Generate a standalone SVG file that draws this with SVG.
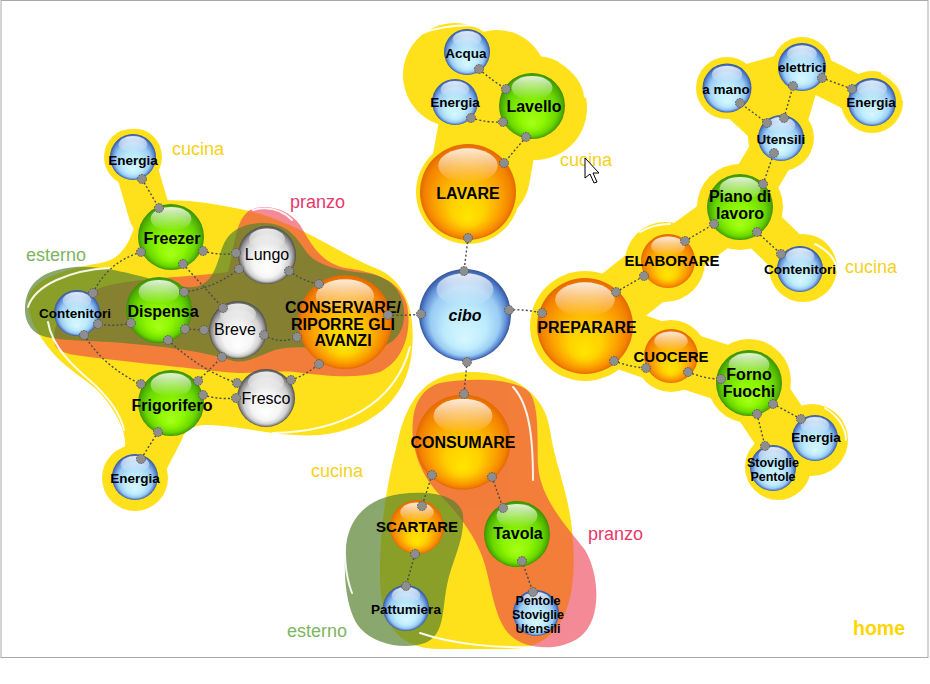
<svg xmlns="http://www.w3.org/2000/svg" width="930" height="684" viewBox="0 0 930 684">
<style>
.y{fill:#FFE11B}
.ys{stroke:#FFE11B;stroke-linecap:round;fill:none}
.rim{fill:none;stroke:#fff;stroke-width:2;stroke-linecap:round;opacity:0.9}
.c{fill:none;stroke:#4a4a4a;stroke-width:1.4;stroke-dasharray:2 2.2}
.d{fill:#8e8e8e;stroke:#555;stroke-width:1;stroke-dasharray:1.6 1.2}
.t{font-family:"Liberation Sans",Arial,sans-serif;font-weight:bold;text-anchor:middle;fill:#000}
.b16{font-size:16px}
.b15{font-size:15px}
.s13{font-size:13.5px}
.s12{font-size:12.5px}
.g{font-weight:normal;font-size:16px}
.lab{font-family:"Liberation Sans",Arial,sans-serif;font-size:18px}
.cu{fill:#F6D11A}
.pr{fill:#E8386A}
.es{fill:#7DB55E}
</style>
<defs>
<radialGradient id="gO" cx="0.5" cy="0.5" r="0.5" fx="0.5" fy="0.78">
<stop offset="0" stop-color="#FFE600"/><stop offset="0.35" stop-color="#FFD000"/><stop offset="0.7" stop-color="#FBA000"/><stop offset="0.9" stop-color="#F38200"/><stop offset="1" stop-color="#E46800"/>
</radialGradient>
<radialGradient id="gG" cx="0.5" cy="0.5" r="0.5" fx="0.5" fy="0.78">
<stop offset="0" stop-color="#A6FF1A"/><stop offset="0.4" stop-color="#8CF500"/><stop offset="0.75" stop-color="#6AD800"/><stop offset="0.92" stop-color="#4DB000"/><stop offset="1" stop-color="#3C8E00"/>
</radialGradient>
<radialGradient id="gB" cx="0.5" cy="0.5" r="0.5" fx="0.5" fy="0.78">
<stop offset="0" stop-color="#D6F7FF"/><stop offset="0.45" stop-color="#BDEBFD"/><stop offset="0.75" stop-color="#9ACBF3"/><stop offset="0.9" stop-color="#5E8ED6"/><stop offset="1" stop-color="#34549F"/>
</radialGradient>
<radialGradient id="gW" cx="0.5" cy="0.5" r="0.5" fx="0.5" fy="0.78">
<stop offset="0" stop-color="#FFFFFF"/><stop offset="0.5" stop-color="#F4F4F4"/><stop offset="0.78" stop-color="#D0D0D0"/><stop offset="0.92" stop-color="#8A8A8A"/><stop offset="1" stop-color="#4A4A4A"/>
</radialGradient>
<linearGradient id="hl" x1="0" y1="0" x2="0" y2="1">
<stop offset="0" stop-color="#fff" stop-opacity="0.85"/><stop offset="1" stop-color="#fff" stop-opacity="0"/>
</linearGradient>
<g id="bO"><circle r="100" fill="url(#gO)"/><ellipse cy="-55" rx="62" ry="36" fill="url(#hl)"/></g>
<g id="bG"><circle r="100" fill="url(#gG)"/><ellipse cy="-55" rx="62" ry="36" fill="url(#hl)"/></g>
<g id="bB"><circle r="100" fill="url(#gB)"/><ellipse cy="-55" rx="62" ry="36" fill="url(#hl)"/></g>
<g id="bW"><circle r="100" fill="url(#gW)"/><ellipse cy="-55" rx="62" ry="36" fill="url(#hl)"/></g>
</defs>

<rect x="1" y="0.5" width="927" height="657" fill="#fff" stroke="#aaa" stroke-width="1"/>

<g id="areas">
<!-- cucina left -->
<g id="cucina-left">
<circle class="y" cx="133" cy="157" r="29"/>
<line class="ys" x1="133" y1="157" x2="150" y2="215" stroke-width="42"/>
<path class="y" d="M140,205 C165,195 210,203 245,210 C300,222 340,255 380,270 C410,285 415,320 412,350 C408,400 370,430 320,435 C280,438 240,425 205,425 C185,425 180,440 172,455 L125,450 C126,440 124,432 120,423 C114,410 108,402 100,393 C85,378 65,368 52,352 C38,335 28,320 28,300 C32,275 75,268 105,262 C130,255 135,225 140,205 Z"/>
<circle class="y" cx="135" cy="478" r="33"/>
<line class="ys" x1="135" y1="478" x2="160" y2="430" stroke-width="48"/>
</g>
<!-- cucina top -->
<g id="cucina-top">
<circle class="y" cx="455" cy="75" r="52"/>
<circle class="y" cx="497" cy="80" r="50"/>
<circle class="y" cx="535" cy="108" r="52"/>
<line class="ys" x1="490" y1="120" x2="480" y2="175" stroke-width="100"/>
<circle class="y" cx="468" cy="192" r="52"/>
</g>
<!-- cucina right -->
<g id="cucina-right">
<circle class="y" cx="585" cy="326" r="55"/>
<circle class="y" cx="665" cy="262" r="40"/>
<circle class="y" cx="740" cy="207" r="43"/>
<circle class="y" cx="781" cy="138" r="33"/>
<circle class="y" cx="727" cy="88" r="31"/>
<circle class="y" cx="802" cy="67" r="30"/>
<circle class="y" cx="872" cy="102" r="31"/>
<circle class="y" cx="803" cy="268" r="34"/>
<circle class="y" cx="671" cy="356" r="36"/>
<circle class="y" cx="749" cy="381" r="42"/>
<circle class="y" cx="812" cy="440" r="36"/>
<circle class="y" cx="778" cy="467" r="33"/>
<polygon class="y" points="735,92 765,72 800,75 810,108 795,130 765,125"/>
<g class="ys">
<line x1="585" y1="326" x2="665" y2="262" stroke-width="60"/>
<line x1="665" y1="262" x2="740" y2="207" stroke-width="52"/>
<line x1="740" y1="207" x2="781" y2="138" stroke-width="46"/>
<line x1="781" y1="138" x2="727" y2="88" stroke-width="42"/>
<line x1="781" y1="138" x2="802" y2="67" stroke-width="42"/>
<line x1="727" y1="88" x2="802" y2="67" stroke-width="36"/>
<line x1="802" y1="67" x2="872" y2="102" stroke-width="38"/>
<line x1="740" y1="207" x2="803" y2="268" stroke-width="44"/>
<line x1="585" y1="326" x2="671" y2="356" stroke-width="60"/>
<line x1="671" y1="356" x2="749" y2="381" stroke-width="56"/>
<line x1="749" y1="381" x2="795" y2="450" stroke-width="60"/>
<line x1="812" y1="440" x2="778" y2="467" stroke-width="50"/>
</g>
</g>
<!-- cucina bottom -->
<path id="cucina-bottom" class="y" d="M470,372 C515,372 545,395 550,430 C555,465 568,490 572,530 C578,590 570,648 510,649 L440,649 C395,649 380,620 380,575 C380,520 388,480 398,440 C408,395 430,372 470,372 Z"/>

<g id="pranzo" opacity="0.6" fill="#EB3C50">
<path d="M55,345 C50,320 70,295 110,285 C140,278 190,277 228,272 C235,245 235,220 250,210 C265,203 288,208 300,225 C312,245 320,262 345,268 C375,272 400,280 407,305 C412,330 405,360 380,372 C355,380 320,375 295,372 C270,370 250,375 225,372 C170,366 110,360 75,355 C63,353 57,350 55,345 Z"/>
<path d="M440,383 C470,378 510,378 527,390 C540,400 537,440 538,465 C540,500 570,530 585,550 C600,575 602,620 580,637 C560,652 525,650 510,635 C495,620 492,590 485,565 C478,540 460,515 440,495 C420,475 410,445 413,420 C415,400 425,387 440,383 Z"/>
</g>
<g id="esterno" opacity="0.69" fill="#55812D">
<path d="M25,310 C25,285 40,270 75,267 C110,265 150,280 185,287 C210,290 215,270 220,255 C225,235 235,225 260,223 C285,222 295,235 305,250 C315,265 335,270 365,273 C390,276 402,290 404,310 C405,330 398,345 370,350 C340,352 300,343 275,350 C255,357 245,365 230,360 C200,350 150,345 110,342 C70,340 45,340 35,332 C28,326 25,318 25,310 Z"/>
<path d="M400,494 C430,490 460,495 463,515 C465,540 452,560 447,585 C442,610 445,635 425,643 C405,650 375,645 360,628 C345,610 343,570 346,545 C350,515 370,498 400,494 Z"/>
</g>
<g id="rims">
<path class="rim" d="M48,322 C52,348 75,368 95,385 C110,400 120,413 124,430"/>
<path class="rim" d="M273,433 C340,432 395,405 410,347"/>
<path class="rim" d="M110,134 C125,126 145,126 158,134"/>
<path class="rim" d="M160,140 C168,155 170,170 174,186"/>
<path class="rim" d="M423,33 C445,25 470,24 490,27"/>
<path class="rim" d="M560,62 C575,72 584,84 585,97"/>
<path class="rim" d="M253,210 C268,206 282,210 292,220"/>
<path class="rim" d="M28,307 C35,285 70,270 110,268"/>
<path class="rim" d="M347,527 C343,550 345,575 352,593"/>
<path class="rim" d="M420,633 C455,645 500,648 533,647"/>
<path class="rim" d="M513,387 C530,405 533,440 533,480"/>
<path class="rim" d="M812,35 C828,38 838,48 840,60"/>
<path class="rim" d="M882,73 C895,80 902,90 903,100"/>
<path class="rim" d="M812,150 C816,170 812,185 806,195"/>
<path class="rim" d="M778,350 C788,356 793,366 792,378"/>
<path class="rim" d="M825,408 C838,416 846,428 846,440"/>
<path class="rim" d="M640,232 C650,226 660,224 670,224"/>
<path class="rim" d="M815,244 C828,250 836,260 837,270"/>
</g>
</g>

<g id="labels">
<text class="lab cu" x="172" y="155">cucina</text>
<text class="lab cu" x="560" y="166">cucina</text>
<text class="lab cu" x="845" y="273">cucina</text>
<text class="lab cu" x="311" y="477">cucina</text>
<text class="lab pr" x="290" y="208">pranzo</text>
<text class="lab pr" x="588" y="540">pranzo</text>
<text class="lab es" x="26" y="261">esterno</text>
<text class="lab es" x="287" y="637">esterno</text>
<text x="853" y="635" style="font-family:'Liberation Sans',Arial,sans-serif;font-weight:bold;font-size:19.5px;fill:#FFD600">home</text>
</g>

<g id="connectors">
<path class="c" d="M142,179 L159,208"/>
<path class="c" d="M141,252 Q108,262 93,293"/>
<path class="c" d="M203,251 Q220,256 236,253"/>
<path class="c" d="M183,264 L223,308"/>
<path class="c" d="M184,292 Q215,288 239,269"/>
<path class="c" d="M131,323 Q114,327 98,324"/>
<path class="c" d="M185,329 L204,330"/>
<path class="c" d="M168,340 Q200,370 237,383"/>
<path class="c" d="M84,335 Q105,368 141,384"/>
<path class="c" d="M198,381 L222,357"/>
<path class="c" d="M203,395 Q220,400 236,398"/>
<path class="c" d="M158,432 L141,459"/>
<path class="c" d="M289,271 Q305,282 319,284"/>
<path class="c" d="M264,335 Q280,345 297,337"/>
<path class="c" d="M291,380 Q306,375 319,364"/>
<path class="c" d="M388,315 Q405,316 421,314"/>
<path class="c" d="M479,69 Q494,82 506,89"/>
<path class="c" d="M471,118 Q488,123 503,122"/>
<path class="c" d="M526,137 L504,163"/>
<path class="c" d="M468,238 L464,271"/>
<path class="c" d="M509,310 Q526,309 542,313"/>
<path class="c" d="M616,292 L644,276"/>
<path class="c" d="M685,241 L714,224"/>
<path class="c" d="M763,184 L774,153"/>
<path class="c" d="M757,232 L781,254"/>
<path class="c" d="M767,123 L740,103"/>
<path class="c" d="M784,118 L793,86"/>
<path class="c" d="M822,78 L852,89"/>
<path class="c" d="M614,361 Q630,367 646,368"/>
<path class="c" d="M688,372 Q705,379 721,379"/>
<path class="c" d="M773,404 L801,419"/>
<path class="c" d="M757,414 L765,446"/>
<path class="c" d="M467,362 L464,394"/>
<path class="c" d="M432,475 L422,506"/>
<path class="c" d="M492,477 L503,508"/>
<path class="c" d="M415,554 L406,586"/>
<path class="c" d="M522,561 L533,592"/>
</g>

<g id="nodes">
<g id="n-cibo"><use href="#bB" transform="translate(465,315) scale(0.46)"/><text class="t b16" x="465" y="321" font-style="italic">cibo</text></g>
<g id="n-lavare"><use href="#bO" transform="translate(468,192) scale(0.48)"/><text class="t b16" x="468" y="199">LAVARE</text></g>
<g id="n-lavello"><use href="#bG" transform="translate(532,106) scale(0.33)"/><text class="t b16" x="534" y="112">Lavello</text></g>
<g id="n-acqua"><use href="#bB" transform="translate(467,52) scale(0.23)"/><text class="t s13" x="466" y="58">Acqua</text></g>
<g id="n-energia-t"><use href="#bB" transform="translate(455,102) scale(0.23)"/><text class="t s13" x="455" y="107">Energia</text></g>
<g id="n-preparare"><use href="#bO" transform="translate(585,326) scale(0.48)"/><text class="t b16" x="587" y="333">PREPARARE</text></g>
<g id="n-elaborare"><use href="#bO" transform="translate(668,261) scale(0.27)"/><text class="t b15" x="672" y="266">ELABORARE</text></g>
<g id="n-piano"><use href="#bG" transform="translate(740,207) scale(0.33)"/><text class="t b16" x="740" y="202">Piano di</text><text class="t b16" x="740" y="219">lavoro</text></g>
<g id="n-utensili"><use href="#bB" transform="translate(781,138) scale(0.23)"/><text class="t s13" x="781" y="144">Utensili</text></g>
<g id="n-amano"><use href="#bB" transform="translate(727,88) scale(0.245)"/><text class="t s13" x="726" y="94">a mano</text></g>
<g id="n-elettrici"><use href="#bB" transform="translate(802,67) scale(0.24)"/><text class="t s13" x="802" y="72">elettrici</text></g>
<g id="n-energia-r"><use href="#bB" transform="translate(872,102) scale(0.24)"/><text class="t s13" x="871" y="107">Energia</text></g>
<g id="n-contenitori-r"><use href="#bB" transform="translate(800,269) scale(0.23)"/><text class="t s13" x="800" y="274">Contenitori</text></g>
<g id="n-cuocere"><use href="#bO" transform="translate(671,356) scale(0.27)"/><text class="t b15" x="671" y="362">CUOCERE</text></g>
<g id="n-forno"><use href="#bG" transform="translate(749,383) scale(0.33)"/><text class="t b16" x="749" y="380">Forno</text><text class="t b16" x="749" y="397">Fuochi</text></g>
<g id="n-energia-f"><use href="#bB" transform="translate(815,438) scale(0.23)"/><text class="t s13" x="816" y="442">Energia</text></g>
<g id="n-stoviglie"><use href="#bB" transform="translate(773,468) scale(0.23)"/><text class="t s12" x="773" y="467">Stoviglie</text><text class="t s12" x="773" y="481">Pentole</text></g>
<g id="n-consumare"><use href="#bO" transform="translate(463,442) scale(0.475)"/><text class="t b16" x="463" y="448">CONSUMARE</text></g>
<g id="n-scartare"><use href="#bO" transform="translate(417,527) scale(0.27)"/><text class="t b15" x="417" y="532">SCARTARE</text></g>
<g id="n-tavola"><use href="#bG" transform="translate(517,534) scale(0.33)"/><text class="t b16" x="518" y="539">Tavola</text></g>
<g id="n-pattumiera"><use href="#bB" transform="translate(406,608) scale(0.23)"/><text class="t s13" x="406" y="614">Pattumiera</text></g>
<g id="n-pentole"><use href="#bB" transform="translate(536,613) scale(0.23)"/><text class="t s12" x="538" y="605">Pentole</text><text class="t s12" x="538" y="619">Stoviglie</text><text class="t s12" x="538" y="633">Utensili</text></g>
<g id="n-conservare"><use href="#bO" transform="translate(345,322) scale(0.47)"/><text class="t b16" x="343" y="313">CONSERVARE/</text><text class="t b16" x="343" y="330">RIPORRE GLI</text><text class="t b16" x="343" y="346">AVANZI</text></g>
<g id="n-lungo"><use href="#bW" transform="translate(267,255) scale(0.29)"/><text class="t g" x="267" y="260">Lungo</text></g>
<g id="n-breve"><use href="#bW" transform="translate(238,330) scale(0.29)"/><text class="t g" x="235" y="335">Breve</text></g>
<g id="n-fresco"><use href="#bW" transform="translate(266,398) scale(0.29)"/><text class="t g" x="266" y="404">Fresco</text></g>
<g id="n-freezer"><use href="#bG" transform="translate(171,237) scale(0.33)"/><text class="t b16" x="172" y="244">Freezer</text></g>
<g id="n-dispensa"><use href="#bG" transform="translate(159,310) scale(0.33)"/><text class="t b16" x="163" y="317">Dispensa</text></g>
<g id="n-frigorifero"><use href="#bG" transform="translate(171,403) scale(0.33)"/><text class="t b16" x="172" y="411">Frigorifero</text></g>
<g id="n-contenitori-l"><use href="#bB" transform="translate(77,313) scale(0.23)"/><text class="t s13" x="75" y="318">Contenitori</text></g>
<g id="n-energia-lt"><use href="#bB" transform="translate(133,157) scale(0.23)"/><text class="t s13" x="133" y="165">Energia</text></g>
<g id="n-energia-lb"><use href="#bB" transform="translate(135,477) scale(0.23)"/><text class="t s13" x="135" y="483">Energia</text></g>
</g>

<g id="ports">
<circle class="d" cx="142" cy="179" r="4.5"/><circle class="d" cx="159" cy="208" r="4.5"/>
<circle class="d" cx="141" cy="252" r="4.5"/><circle class="d" cx="93" cy="293" r="4.5"/>
<circle class="d" cx="203" cy="251" r="4.5"/><circle class="d" cx="236" cy="253" r="4.5"/>
<circle class="d" cx="183" cy="264" r="4.5"/><circle class="d" cx="223" cy="308" r="4.5"/>
<circle class="d" cx="184" cy="292" r="4.5"/><circle class="d" cx="239" cy="269" r="4.5"/>
<circle class="d" cx="131" cy="323" r="4.5"/><circle class="d" cx="98" cy="324" r="4.5"/>
<circle class="d" cx="185" cy="329" r="4.5"/><circle class="d" cx="204" cy="330" r="4.5"/>
<circle class="d" cx="168" cy="340" r="4.5"/><circle class="d" cx="237" cy="383" r="4.5"/>
<circle class="d" cx="84" cy="335" r="4.5"/><circle class="d" cx="141" cy="384" r="4.5"/>
<circle class="d" cx="198" cy="381" r="4.5"/><circle class="d" cx="222" cy="357" r="4.5"/>
<circle class="d" cx="203" cy="395" r="4.5"/><circle class="d" cx="236" cy="398" r="4.5"/>
<circle class="d" cx="158" cy="432" r="4.5"/><circle class="d" cx="141" cy="459" r="4.5"/>
<circle class="d" cx="289" cy="271" r="4.5"/><circle class="d" cx="319" cy="284" r="4.5"/>
<circle class="d" cx="264" cy="335" r="4.5"/><circle class="d" cx="297" cy="337" r="4.5"/>
<circle class="d" cx="291" cy="380" r="4.5"/><circle class="d" cx="319" cy="364" r="4.5"/>
<circle class="d" cx="388" cy="315" r="4.5"/><circle class="d" cx="421" cy="314" r="4.5"/>
<circle class="d" cx="479" cy="69" r="4.5"/><circle class="d" cx="506" cy="89" r="4.5"/>
<circle class="d" cx="471" cy="118" r="4.5"/><circle class="d" cx="503" cy="122" r="4.5"/>
<circle class="d" cx="526" cy="137" r="4.5"/><circle class="d" cx="504" cy="163" r="4.5"/>
<circle class="d" cx="468" cy="238" r="4.5"/><circle class="d" cx="464" cy="271" r="4.5"/>
<circle class="d" cx="509" cy="310" r="4.5"/><circle class="d" cx="542" cy="313" r="4.5"/>
<circle class="d" cx="616" cy="292" r="4.5"/><circle class="d" cx="644" cy="276" r="4.5"/>
<circle class="d" cx="685" cy="241" r="4.5"/><circle class="d" cx="714" cy="224" r="4.5"/>
<circle class="d" cx="763" cy="184" r="4.5"/><circle class="d" cx="774" cy="153" r="4.5"/>
<circle class="d" cx="757" cy="232" r="4.5"/><circle class="d" cx="781" cy="254" r="4.5"/>
<circle class="d" cx="767" cy="123" r="4.5"/><circle class="d" cx="740" cy="103" r="4.5"/>
<circle class="d" cx="784" cy="118" r="4.5"/><circle class="d" cx="793" cy="86" r="4.5"/>
<circle class="d" cx="822" cy="78" r="4.5"/><circle class="d" cx="852" cy="89" r="4.5"/>
<circle class="d" cx="614" cy="361" r="4.5"/><circle class="d" cx="646" cy="368" r="4.5"/>
<circle class="d" cx="688" cy="372" r="4.5"/><circle class="d" cx="721" cy="379" r="4.5"/>
<circle class="d" cx="773" cy="404" r="4.5"/><circle class="d" cx="801" cy="419" r="4.5"/>
<circle class="d" cx="757" cy="414" r="4.5"/><circle class="d" cx="765" cy="446" r="4.5"/>
<circle class="d" cx="467" cy="362" r="4.5"/><circle class="d" cx="464" cy="394" r="4.5"/>
<circle class="d" cx="432" cy="475" r="4.5"/><circle class="d" cx="422" cy="506" r="4.5"/>
<circle class="d" cx="492" cy="477" r="4.5"/><circle class="d" cx="503" cy="508" r="4.5"/>
<circle class="d" cx="415" cy="554" r="4.5"/><circle class="d" cx="406" cy="586" r="4.5"/>
<circle class="d" cx="522" cy="561" r="4.5"/><circle class="d" cx="533" cy="592" r="4.5"/>
</g>

<polygon id="cursor" points="585,158 585,178 590,174 594,183 597,182 593,173 599,173" fill="#fff" stroke="#000" stroke-width="1" stroke-linejoin="round"/>
</svg>
